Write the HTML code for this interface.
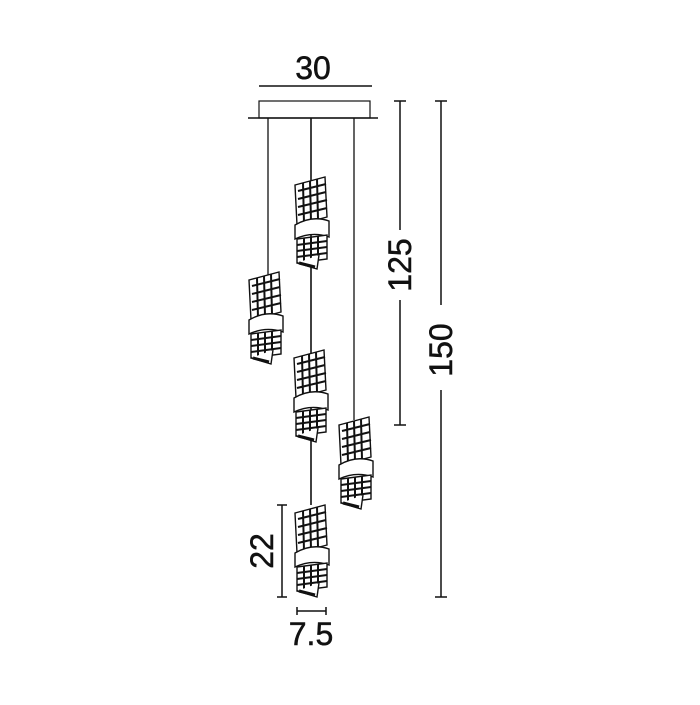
<!DOCTYPE html>
<html><head><style>body{margin:0;background:#fff}</style></head><body>
<svg width="700" height="700" viewBox="0 0 700 700" xmlns="http://www.w3.org/2000/svg" font-family="Liberation Sans, sans-serif">
<defs>
<g id="p" stroke="#111" fill="none" stroke-width="1.4">
<path d="M0,8 L30,0 L32,40 L2,48 Z" fill="#fff"/>
<path d="M3,14 L31,7 M3,22 L31,15 M3,30 L32,23 M3,38 L32,31 M8,6 L9,46 M15,4 L16,44 M22,2 L23,42" stroke-width="2"/>
<path d="M0,48 Q17,38 34,44 L34,60 Q17,54 0,62 Z" fill="#fff"/>
<path d="M2,62 L32,58 L32,82 L2,86 Z" fill="#fff"/>
<path d="M2,68 L32,64 M2,74 L32,70 M2,80 L32,76 M9,61 L9,85 M16,60 L16,84 M23,59 L23,83" stroke-width="2"/>
<path d="M2,86 L22,92 L24,78" fill="#fff"/>
<path d="M4,86 L20,90" stroke-width="3"/>
</g>
</defs>
<g stroke="#111" fill="none">
<rect x="259" y="101" width="111" height="17" stroke-width="1.2"/>
<line x1="248" y1="118" x2="378" y2="118" stroke-width="1.5"/>
<line x1="268" y1="118" x2="268" y2="275" stroke-width="1.3"/>
<line x1="311" y1="118" x2="311" y2="505" stroke-width="1.6"/>
<line x1="354" y1="118" x2="354" y2="420" stroke-width="1.3"/>
<line x1="259" y1="86" x2="372" y2="86" stroke-width="1.5"/>
<line x1="400" y1="101" x2="400" y2="425" stroke-width="1.5"/>
<line x1="394" y1="101" x2="406" y2="101" stroke-width="1.5"/>
<line x1="394" y1="425" x2="406" y2="425" stroke-width="1.5"/>
<line x1="441" y1="101" x2="441" y2="597" stroke-width="1.5"/>
<line x1="435" y1="101" x2="447" y2="101" stroke-width="1.5"/>
<line x1="435" y1="597" x2="447" y2="597" stroke-width="1.5"/>
<line x1="282" y1="505" x2="282" y2="597" stroke-width="1.5"/>
<line x1="277" y1="505" x2="287" y2="505" stroke-width="1.5"/>
<line x1="277" y1="597" x2="287" y2="597" stroke-width="1.5"/>
<line x1="297" y1="611" x2="326" y2="611" stroke-width="1.5"/>
<line x1="297" y1="607" x2="297" y2="615" stroke-width="1.5"/>
<line x1="326" y1="607" x2="326" y2="615" stroke-width="1.5"/>
</g>
<rect x="385" y="230" width="30" height="70" fill="#fff"/>
<rect x="426" y="305" width="30" height="85" fill="#fff"/>
<use href="#p" x="295" y="177"/>
<use href="#p" x="249" y="272"/>
<use href="#p" x="294" y="350"/>
<use href="#p" x="339" y="417"/>
<use href="#p" x="295" y="505"/>
<g fill="#111" font-size="32" text-anchor="middle" stroke="#111" stroke-width="0.5">
<text x="313" y="79">30</text>
<text x="311" y="645">7.5</text>
<text transform="translate(411,265) rotate(-90)">125</text>
<text transform="translate(452,350) rotate(-90)">150</text>
<text transform="translate(273,551) rotate(-90)">22</text>
</g>
</svg>
</body></html>
